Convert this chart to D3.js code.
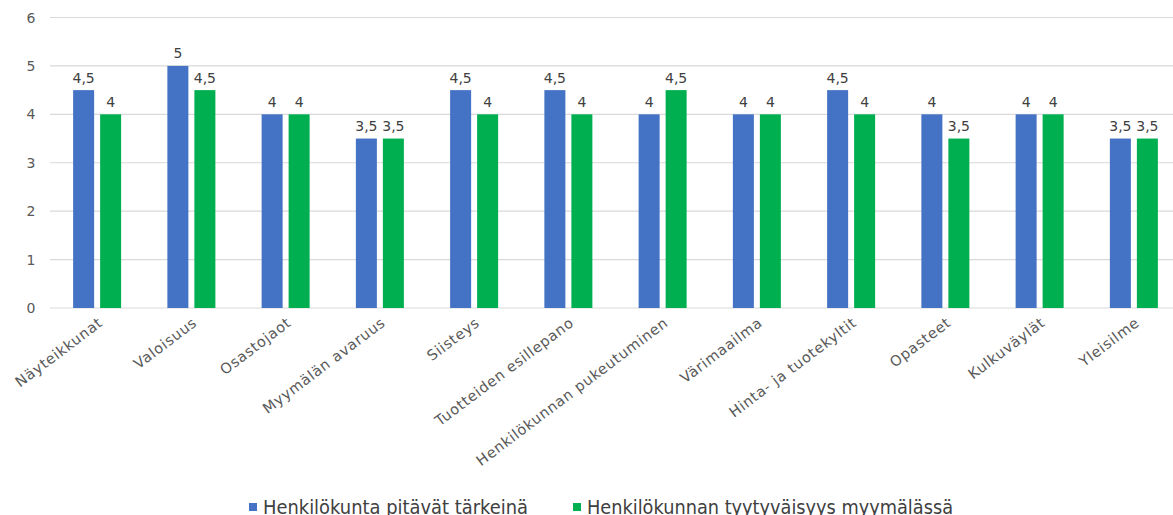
<!DOCTYPE html>
<html>
<head>
<meta charset="utf-8">
<script src="https://cdn.jsdelivr.net/npm/d3@7"></script>
<style>
  html, body { margin: 0; padding: 0; background: #fff; }
  svg { display: block; font-family: "DejaVu Sans", "Noto Sans", sans-serif; }
</style>
</head>
<body>
<svg id="chart" width="1173" height="515"></svg>
<script>
const categories = ["Näyteikkunat", "Valoisuus", "Osastojaot", "Myymälän avaruus", "Siisteys",
  "Tuotteiden esillepano", "Henkilökunnan pukeutuminen", "Värimaailma", "Hinta- ja tuotekyltit",
  "Opasteet", "Kulkuväylät", "Yleisilme"];
const seriesNames = ["Henkilökunta pitävät tärkeinä", "Henkilökunnan tyytyväisyys myymälässä"];
const importance = [4.5, 5, 4, 3.5, 4.5, 4.5, 4, 4, 4.5, 4, 4, 3.5];
const satisfaction = [4, 4.5, 4, 3.5, 4, 4, 4.5, 4, 4, 3.5, 4, 3.5];
const yTicks = [0, 1, 2, 3, 4, 5, 6];
const colors = ["#4472c4", "#00b050"];

const svg = d3.select("#chart");
const x = d3.scaleBand().domain(categories).range([50, 1181]);
const y = d3.scaleLinear().domain([0, 6]).range([308, 17.5]);
const barW = 21, gap = 6;

// horizontal gridlines
svg.append("g").selectAll("line").data(yTicks).join("line")
  .attr("x1", 50).attr("x2", 1181)
  .attr("y1", d => y(d)).attr("y2", d => y(d))
  .attr("stroke", "#d9d9d9").attr("stroke-width", 1.2);

// value axis labels
svg.append("g").selectAll("text").data(yTicks).join("text")
  .attr("x", 31).attr("y", d => y(d)).attr("dy", "0.36em")
  .attr("text-anchor", "middle").attr("fill", "#595959").attr("font-size", 14)
  .text(d => d);

const rows = categories.map((c, i) => ({ c, vals: [importance[i], satisfaction[i]] }));
const groups = svg.append("g").selectAll("g").data(rows).join("g")
  .attr("transform", d => `translate(${x(d.c) + x.bandwidth() / 2},0)`);

groups.each(function (d) {
  const g = d3.select(this);
  d.vals.forEach((v, k) => {
    const bx = k === 0 ? -gap / 2 - barW : gap / 2;
    g.append("rect").attr("x", bx).attr("width", barW)
      .attr("y", y(v)).attr("height", y(0) - y(v)).attr("fill", colors[k]);
    g.append("text").attr("x", bx + barW / 2).attr("y", y(v) - 7.5)
      .attr("text-anchor", "middle").attr("fill", "#404040").attr("font-size", 14)
      .text(String(v).replace(".", ","));
  });
});

// rotated category labels
groups.append("text")
  .attr("transform", "translate(0,316) rotate(-37)")
  .attr("text-anchor", "end").attr("dy", "0.75em")
  .attr("fill", "#595959").attr("font-size", 14.5).attr("letter-spacing", 0.7)
  .text(d => d.c);

// legend
const legend = svg.append("g").attr("font-size", 19);
const legX = [249, 573];
const legW = [265, 366];
seriesNames.forEach((n, k) => {
  legend.append("rect").attr("x", legX[k]).attr("y", 503).attr("width", 8).attr("height", 8).attr("fill", colors[k]);
  legend.append("text").attr("x", legX[k] + 14).attr("y", 514).attr("fill", "#404040")
    .attr("textLength", legW[k]).attr("lengthAdjust", "spacingAndGlyphs").text(n);
});
</script>
</body>
</html>
